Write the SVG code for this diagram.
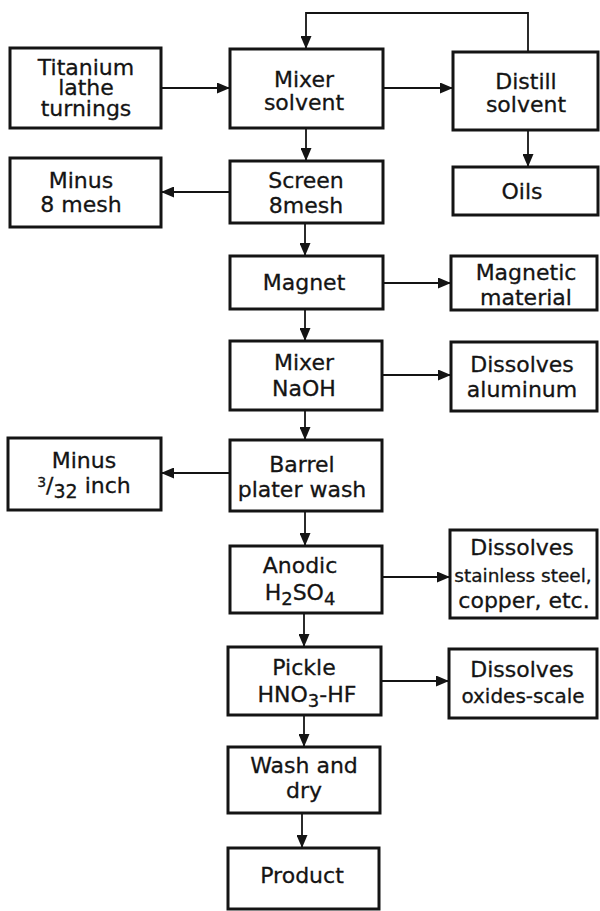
<svg xmlns="http://www.w3.org/2000/svg" width="600" height="911" viewBox="0 0 600 911">
<style>
.box{fill:#fff;stroke:#141414;stroke-width:3}
.t{font-family:"DejaVu Sans","Liberation Sans",sans-serif;font-size:22px;text-anchor:middle;fill:#141414;stroke:#141414;stroke-width:0.3}
.c{stroke:#141414;stroke-width:1.8;fill:none;marker-end:url(#ah)}
</style>
<defs>
<marker id="ah" markerUnits="userSpaceOnUse" markerWidth="13" markerHeight="11" refX="13" refY="5.5" orient="auto">
<path d="M0,0 L13,5.5 L0,11 z" fill="#141414"/>
</marker>
</defs>
<rect width="600" height="911" fill="#fff"/>
<g id="connectors">
<path class="c" d="M528,52 V13 H306 V49"/>
<path class="c" d="M161,88 H230"/>
<path class="c" d="M383,88 H453"/>
<path class="c" d="M528,130 V167"/>
<path class="c" d="M306,128 V161"/>
<path class="c" d="M230,192 H161"/>
<path class="c" d="M305,223 V256"/>
<path class="c" d="M383,283 H451"/>
<path class="c" d="M305,309 V341"/>
<path class="c" d="M382,375 H451"/>
<path class="c" d="M305,410 V440"/>
<path class="c" d="M230,473 H161"/>
<path class="c" d="M305,511 V546"/>
<path class="c" d="M382,577 H450"/>
<path class="c" d="M304,613 V647"/>
<path class="c" d="M381,681 H449"/>
<path class="c" d="M304,715 V747"/>
<path class="c" d="M302,813 V848"/>
</g>
<g id="titanium"><rect class="box" x="10" y="48" width="151" height="80"/>
<text class="t" x="86" y="75">Titanium</text><text class="t" x="86" y="95">lathe</text><text class="t" x="86" y="116">turnings</text></g>
<g id="mixer_solvent"><rect class="box" x="230" y="49" width="153" height="79"/>
<text class="t" x="304" y="87">Mixer</text><text class="t" x="304" y="110">solvent</text></g>
<g id="distill_solvent"><rect class="box" x="453" y="52" width="145" height="78"/>
<text class="t" x="526" y="89">Distill</text><text class="t" x="526" y="112">solvent</text></g>
<g id="oils"><rect class="box" x="453" y="167" width="145" height="48"/>
<text class="t" x="522" y="199">Oils</text></g>
<g id="minus_8_mesh"><rect class="box" x="10" y="158" width="151" height="69"/>
<text class="t" x="81" y="188">Minus</text><text class="t" x="81" y="212">8 mesh</text></g>
<g id="screen"><rect class="box" x="230" y="161" width="153" height="62"/>
<text class="t" x="306" y="188">Screen</text><text class="t" x="306" y="213">8mesh</text></g>
<g id="magnet"><rect class="box" x="230" y="256" width="153" height="53"/>
<text class="t" x="304" y="290">Magnet</text></g>
<g id="magnetic_material"><rect class="box" x="451" y="256" width="146" height="54"/>
<text class="t" x="526" y="280">Magnetic</text><text class="t" x="526" y="305">material</text></g>
<g id="mixer_naoh"><rect class="box" x="230" y="341" width="152" height="69"/>
<text class="t" x="304" y="370">Mixer</text><text class="t" x="304" y="396">NaOH</text></g>
<g id="dissolves_aluminum"><rect class="box" x="451" y="342" width="146" height="69"/>
<text class="t" x="522" y="372">Dissolves</text><text class="t" x="522" y="397">aluminum</text></g>
<g id="minus_3_32_inch"><rect class="box" x="8" y="438" width="153" height="72"/>
<text class="t" x="84" y="468">Minus</text>
<text class="t" x="84" y="493"><tspan font-size="14" dy="-6">3</tspan><tspan dy="6">/</tspan><tspan font-size="19" dy="5">32</tspan><tspan dy="-5"> inch</tspan></text></g>
<g id="barrel"><rect class="box" x="230" y="440" width="152" height="71"/>
<text class="t" x="302" y="472">Barrel</text><text class="t" x="302" y="497">plater wash</text></g>
<g id="anodic"><rect class="box" x="230" y="546" width="152" height="67"/>
<text class="t" x="300" y="573">Anodic</text>
<text class="t" x="300" y="600">H<tspan font-size="18" dy="5">2</tspan><tspan dy="-5">SO</tspan><tspan font-size="18" dy="5">4</tspan></text></g>
<g id="dissolves_stainless"><rect class="box" x="450" y="530" width="147" height="88"/>
<text class="t" x="522" y="555">Dissolves</text>
<text class="t" x="523" y="582" style="font-size:18.5px">stainless steel,</text>
<text class="t" x="524" y="608">copper, etc.</text></g>
<g id="pickle"><rect class="box" x="228" y="647" width="153" height="68"/>
<text class="t" x="304" y="675">Pickle</text>
<text class="t" x="307" y="702">HNO<tspan font-size="18" dy="5">3</tspan><tspan dy="-5">-HF</tspan></text></g>
<g id="dissolves_oxides"><rect class="box" x="449" y="649" width="148" height="69"/>
<text class="t" x="522" y="677">Dissolves</text>
<text class="t" x="523" y="703" style="font-size:20px">oxides-scale</text></g>
<g id="wash_dry"><rect class="box" x="228" y="747" width="152" height="66"/>
<text class="t" x="304" y="773">Wash and</text><text class="t" x="304" y="798">dry</text></g>
<g id="product"><rect class="box" x="228" y="848" width="151" height="61"/>
<text class="t" x="302" y="883">Product</text></g>
</svg>
